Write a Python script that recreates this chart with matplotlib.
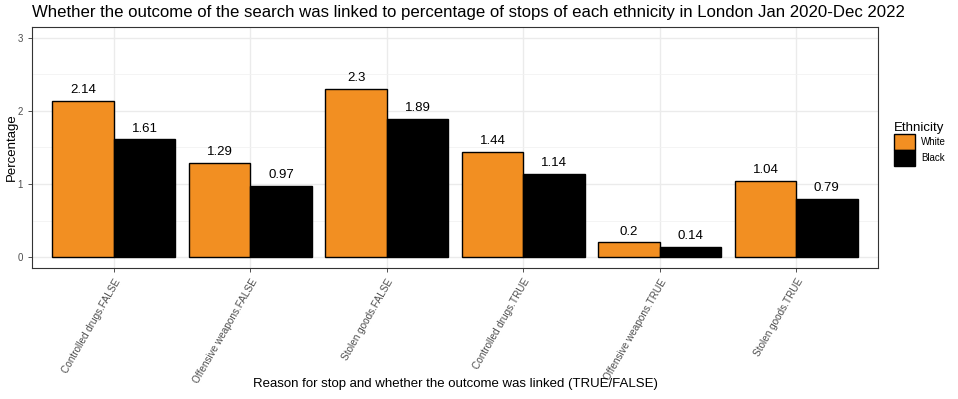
import matplotlib
matplotlib.use("Agg")
import matplotlib.pyplot as plt
import numpy as np
from matplotlib.patches import Patch
from matplotlib.ticker import MultipleLocator

plt.rcParams["font.family"] = ["Liberation Sans", "DejaVu Sans"]

categories = [
    "Controlled drugs.FALSE",
    "Offensive weapons.FALSE",
    "Stolen goods.FALSE",
    "Controlled drugs.TRUE",
    "Offensive weapons.TRUE",
    "Stolen goods.TRUE",
]
white = [2.14, 1.29, 2.3, 1.44, 0.2, 1.04]
black = [1.61, 0.97, 1.89, 1.14, 0.14, 0.79]
series = [("White", white, "#F28F22"), ("Black", black, "#000000")]

W, H = 958, 399
fig = plt.figure(figsize=(W / 100, H / 100), dpi=100)
ax = fig.add_axes([32 / W, (H - 268) / H, (878 - 32) / W, (268 - 27) / H])

x = np.arange(1, len(categories) + 1)
bw = 0.45
for i, (name, vals, col) in enumerate(series):
    pos = x + (i - 0.5) * bw
    ax.bar(pos, vals, width=bw, color=col, edgecolor="black", linewidth=1.0, zorder=3)
    for p, v in zip(pos, vals):
        ax.annotate(f"{v:g}", (p, v), xytext=(0, 3.5), textcoords="offset points",
                    ha="center", va="bottom", fontsize=9.5, color="black", zorder=4)

ax.set_xlim(0.4, len(categories) + 0.6)
ax.set_ylim(-0.15, 3.15)
ax.set_xticks(x)
ax.set_xticklabels(categories, rotation=60, ha="right", rotation_mode="anchor",
                   fontsize=7.2, color="#4D4D4D")
ax.set_yticks([0, 1, 2, 3])
ax.yaxis.set_minor_locator(MultipleLocator(0.5))
ax.tick_params(axis="y", which="minor", length=0)
ax.tick_params(axis="both", which="major", length=3, color="#333333", width=0.6)
ax.tick_params(axis="y", labelsize=7, labelcolor="#4D4D4D")
ax.grid(which="major", color="#EBEBEB", linewidth=1.0, zorder=0)
ax.grid(which="minor", axis="y", color="#F2F2F2", linewidth=0.6, zorder=0)
for s in ax.spines.values():
    s.set_color("#333333")
    s.set_linewidth(0.8)

fig.text(12 / W, 1 - 147 / H, "Percentage", rotation=90, ha="center", va="center",
         fontsize=9.5)
fig.text(455 / W, 1 - 384 / H,
         "Reason for stop and whether the outcome was linked (TRUE/FALSE)",
         ha="center", va="center", fontsize=9.5)
fig.text(32 / W, 1 - 12 / H, "Whether the outcome of the search was linked to percentage of stops of each ethnicity in London Jan 2020-Dec 2022",
         ha="left", va="center", fontsize=12.1)

handles = [Patch(facecolor=c, edgecolor="black", label=n) for n, _, c in series]
leg = fig.legend(handles=handles, title="Ethnicity", loc="upper left",
                 bbox_to_anchor=(886 / W, 1 - 114 / H), frameon=False,
                 fontsize=7, title_fontsize=9.5, handlelength=2.2, handleheight=2.2,
                 handletextpad=0.6, labelspacing=0.0, borderpad=0.3)
leg._legend_box.align = "left"

fig.savefig("out.png", dpi=100)
